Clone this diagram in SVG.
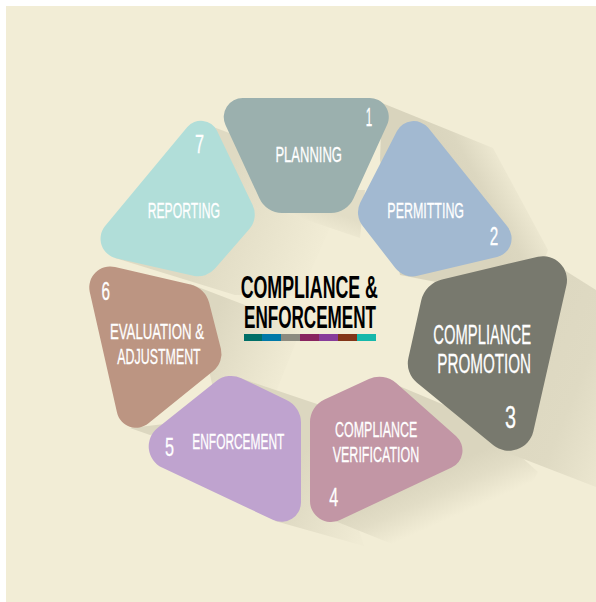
<svg xmlns="http://www.w3.org/2000/svg" width="596" height="602" viewBox="0 0 596 602">
<style>
text{font-family:"Liberation Sans",Arial,sans-serif;fill:#fff;stroke:#fff;stroke-width:.3px;text-anchor:middle}
.l{font-size:22px}
.n{font-size:26px}
.b{font-size:28px}
.t{font-size:32px;fill:#000;stroke:none;font-weight:700}
</style>
<defs>
<linearGradient id="s2" gradientUnits="userSpaceOnUse" x1="478" y1="223" x2="530" y2="194"><stop offset="0" stop-color="#d9d4bd"/><stop offset=".35" stop-color="#dcd7c0"/><stop offset="1" stop-color="#f2edd6"/></linearGradient>
<linearGradient id="s3" gradientUnits="userSpaceOnUse" x1="500" y1="360" x2="625" y2="412"><stop offset="0" stop-color="#dcd7c0"/><stop offset=".6" stop-color="#dfdac3"/><stop offset="1" stop-color="#ebe6cf"/></linearGradient>
<linearGradient id="s4" gradientUnits="userSpaceOnUse" x1="420" y1="478" x2="440" y2="523"><stop offset="0" stop-color="#dad5be"/><stop offset=".45" stop-color="#e2ddc6"/><stop offset="1" stop-color="#f2edd6"/></linearGradient>
<linearGradient id="s5" gradientUnits="userSpaceOnUse" x1="285" y1="490" x2="365" y2="530"><stop offset="0" stop-color="#dcd7c0"/><stop offset="1" stop-color="#f0ebd4"/></linearGradient>
<linearGradient id="s6" gradientUnits="userSpaceOnUse" x1="205" y1="338" x2="293" y2="375"><stop offset="0" stop-color="#dcd7c0"/><stop offset="1" stop-color="#f2edd6"/></linearGradient>
<linearGradient id="s7" gradientUnits="userSpaceOnUse" x1="215" y1="212" x2="325" y2="257"><stop offset="0" stop-color="#dfdac3"/><stop offset="1" stop-color="#f2edd6"/></linearGradient>
<linearGradient id="s8" gradientUnits="userSpaceOnUse" x1="312" y1="205" x2="304" y2="229"><stop offset="0" stop-color="#e2ddc6"/><stop offset="1" stop-color="#f2edd6"/></linearGradient>
</defs>
<rect width="596" height="602" fill="#fff"/>
<rect x="6" y="6" width="590" height="596" fill="#f2edd6"/>
<g id="connectors"></g>
<g id="shadows">
<path fill="url(#s7)" d="M200 122L240 137 350 182 300 296 235 295 115 258Z"/>
<path fill="url(#s6)" d="M190 284L302 327 268 412 130 428 150 435 220 420Z"/>
<path fill="url(#s5)" d="M240 378L320 405 364 546 275 521Z"/>
<path fill="url(#s4)" d="M380 378L480 420 538 472 520 505 397 546 335 521Z"/>
<path fill="url(#s3)" d="M553 263L596 290V487L500 450Z"/>
<path fill="url(#s8)" d="M277 210L360 238 365 190 300 190Z"/>
<path fill="url(#s2)" d="M382 103L493 148 548 250 530 300 400 275 380 160Z"/>
</g>
<g id="node-1">
<path fill="#9bb0ae" d="M243 98H369A19 19 0 0 1 387 125L353.500 198.500A25 25 0 0 1 331 213H282A25 25 0 0 1 259.500 198.500L225.500 125A19 19 0 0 1 243 98Z"/>
<text class="l" x="308.700" y="161.700" textLength="66.500" lengthAdjust="spacingAndGlyphs">PLANNING</text>
<text class="n" x="369" y="126" textLength="6.500" lengthAdjust="spacingAndGlyphs">1</text>
</g>
<g id="node-2">
<path fill="#a2b9d1" d="M397 131A19 19 0 0 1 428 127.600L507.400 226.600A19 19 0 0 1 497 257L417.600 275.800A22 22 0 0 1 395.300 268L362.700 226A22 22 0 0 1 360.300 202.500Z"/>
<text class="l" x="425.700" y="217.700" textLength="76.700" lengthAdjust="spacingAndGlyphs">PERMITTING</text>
<text class="n" x="494" y="245" textLength="8.500" lengthAdjust="spacingAndGlyphs">2</text>
</g>
<g id="node-3">
<path fill="#78796e" d="M442 279.500L538 256.700A24 24 0 0 1 566.500 285L533.300 431.500A25 25 0 0 1 493.400 445.300L417 382.800A25 25 0 0 1 408.400 358L421.200 300.600A28 28 0 0 1 442 279.500Z"/>
<text class="b" x="482.200" y="343.500" textLength="97.700" lengthAdjust="spacingAndGlyphs">COMPLIANCE</text>
<text class="b" x="484.200" y="373.300" textLength="93.700" lengthAdjust="spacingAndGlyphs">PROMOTION</text>
<text x="510.500" y="427.700" font-size="31" textLength="11" lengthAdjust="spacingAndGlyphs">3</text>
</g>
<g id="node-4">
<path fill="#c296a5" d="M324.500 399.600L368.900 379A25 25 0 0 1 396.100 383L456.200 436.300A19 19 0 0 1 451.600 467.600L339.900 520A21 21 0 0 1 310 501V422.400A25 25 0 0 1 324.500 399.600Z"/>
<text class="l" x="376.200" y="437.300" textLength="82.300" lengthAdjust="spacingAndGlyphs">COMPLIANCE</text>
<text class="l" x="376" y="461.700" textLength="86.600" lengthAdjust="spacingAndGlyphs">VERIFICATION</text>
<text class="n" x="333.800" y="506" textLength="9" lengthAdjust="spacingAndGlyphs">4</text>
</g>
<g id="node-5">
<path fill="#bfa3cf" d="M241.300 378.200L286.500 400A25 25 0 0 1 301 422.800V502.400A19.500 19.500 0 0 1 273.300 520L162 467.600A23.500 23.500 0 0 1 157.500 428.100L216.400 381A24 24 0 0 1 241.300 378.200Z"/>
<text class="l" x="238.300" y="449" textLength="92" lengthAdjust="spacingAndGlyphs">ENFORCEMENT</text>
<text class="n" x="169.500" y="455.700" textLength="9" lengthAdjust="spacingAndGlyphs">5</text>
</g>
<g id="node-6">
<path fill="#bc9582" d="M115 267L190.500 284.400A25 25 0 0 1 209.100 302.600L220.900 348.700A22 22 0 0 1 213.500 370.700L148.500 423.200A19.500 19.500 0 0 1 117 412.500L89.700 291.800A21 21 0 0 1 115 267Z"/>
<text class="l" x="157" y="339.300" textLength="94" lengthAdjust="spacingAndGlyphs">EVALUATION &amp;</text>
<text class="l" x="159" y="364" textLength="83.400" lengthAdjust="spacingAndGlyphs">ADJUSTMENT</text>
<text class="n" x="105.800" y="300" textLength="8.500" lengthAdjust="spacingAndGlyphs">6</text>
</g>
<g id="node-7">
<path fill="#b1ded9" d="M187.100 127.200A18 18 0 0 1 217 130.800L252.600 205A22 22 0 0 1 249.400 228.900L215 268.600A22 22 0 0 1 193.300 275.700L116.100 258.200A20 20 0 0 1 105.100 226Z"/>
<text class="l" x="183.800" y="217.700" textLength="72.300" lengthAdjust="spacingAndGlyphs">REPORTING</text>
<text class="n" x="199.500" y="153.300" textLength="9" lengthAdjust="spacingAndGlyphs">7</text>
</g>
<g id="title">
<text class="t" x="309.300" y="298.300" textLength="137.300" lengthAdjust="spacingAndGlyphs">COMPLIANCE &amp;</text>
<text class="t" x="310" y="327.700" textLength="132" lengthAdjust="spacingAndGlyphs">ENFORCEMENT</text>
<rect x="244" y="334" width="18" height="7" fill="#006f67"/>
<rect x="262" y="334" width="19" height="7" fill="#0079a8"/>
<rect x="281" y="334" width="19" height="7" fill="#8c8b80"/>
<rect x="300" y="334" width="19" height="7" fill="#88245f"/>
<rect x="319" y="334" width="19" height="7" fill="#873c9a"/>
<rect x="338" y="334" width="19" height="7" fill="#823518"/>
<rect x="357" y="334" width="19" height="7" fill="#15b8ab"/>
</g>
</svg>
